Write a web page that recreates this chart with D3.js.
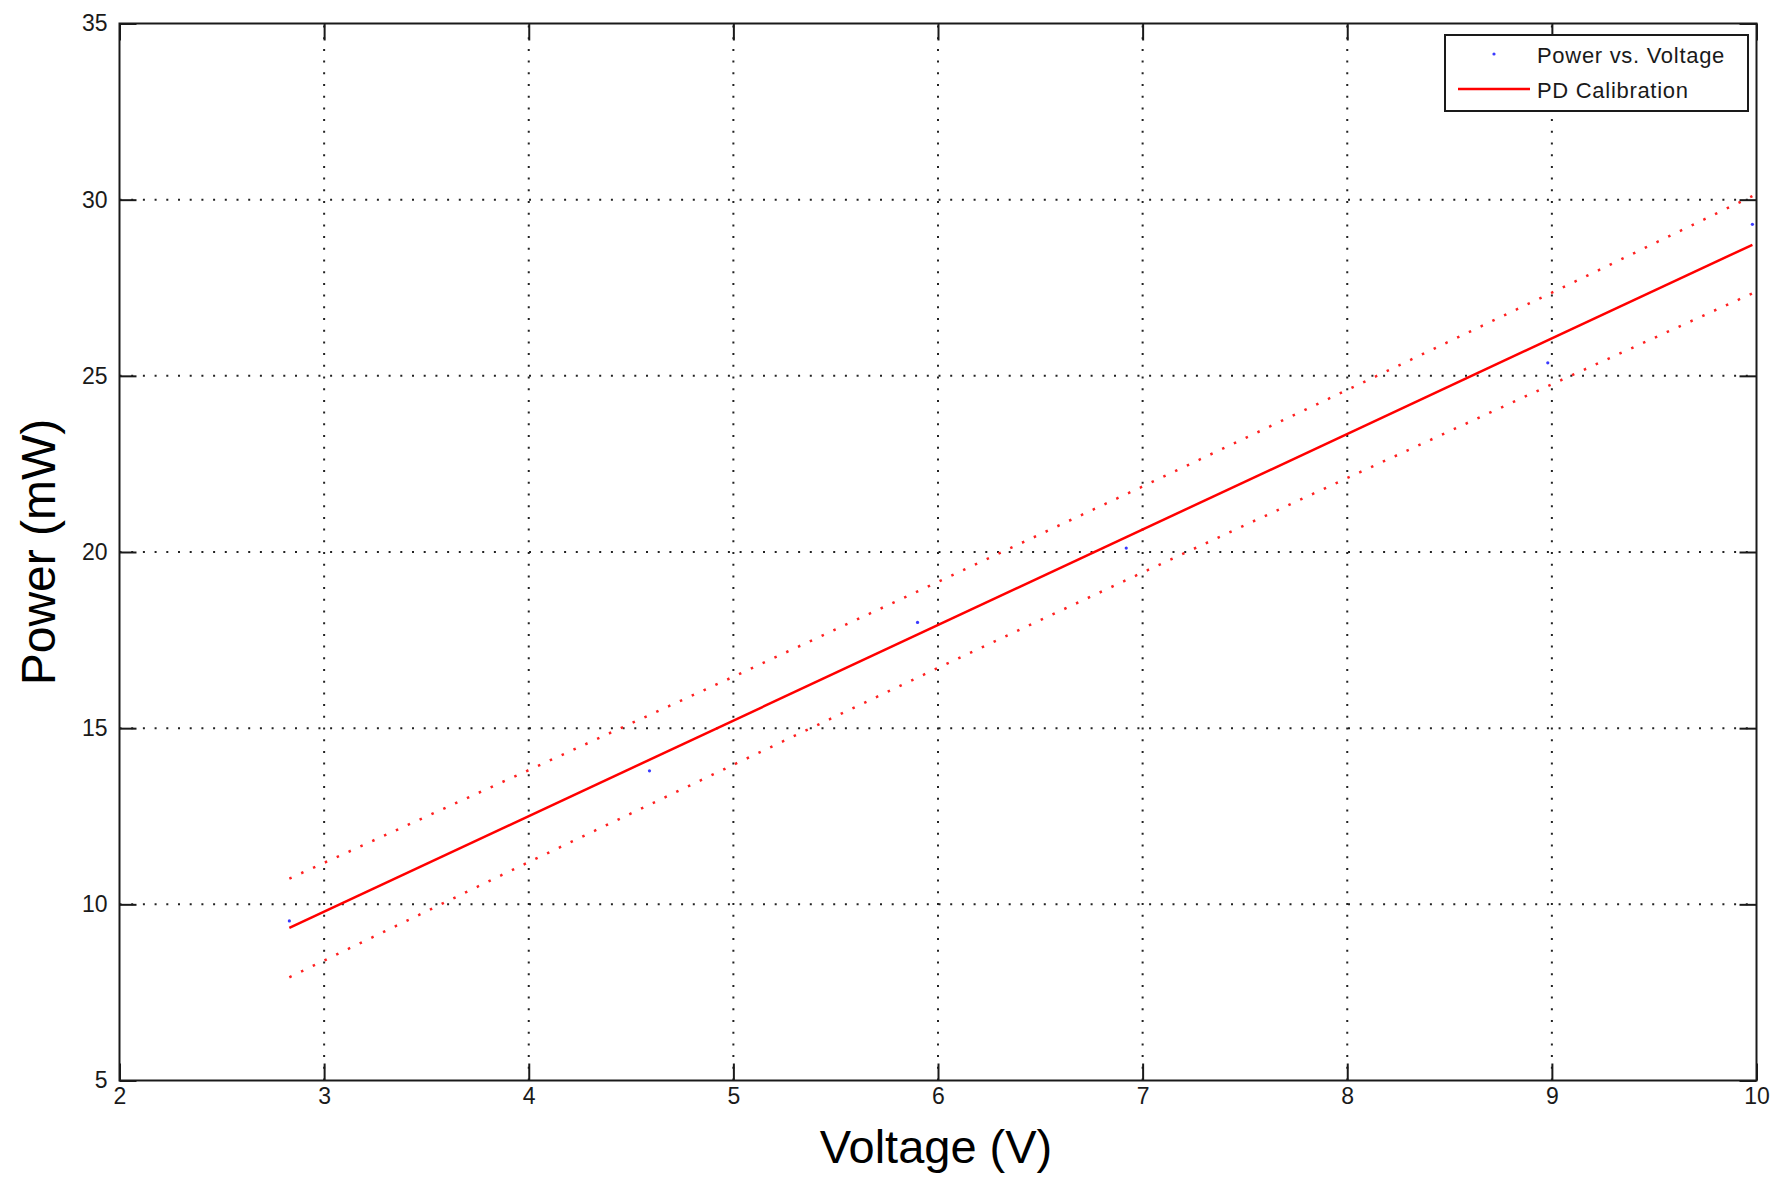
<!DOCTYPE html>
<html>
<head>
<meta charset="utf-8">
<script src="https://cdn.jsdelivr.net/npm/d3@7"></script>
<style>
  body { margin: 0; background: #fff; }
  svg { display: block; }
  .tick text { font-family: "Liberation Sans Narrow", "Arial Narrow", "Liberation Sans", sans-serif; font-size: 23px; fill: #1a1a1a; }
  .domain { display: none; }
</style>
</head>
<body>
<script>
// measured points
var voltage = [2.83, 4.59, 5.90, 6.92, 8.98, 9.98];
var power = [9.53, 13.79, 18.00, 20.11, 25.37, 29.30];

// calibration fit, read at its two ends
var fitVoltage = [2.83, 9.98];
var fitPower = [9.33, 28.72];

// dotted prediction bounds
var boundVoltage = [2.83, 4, 5, 6, 7, 8, 9, 9.98];
var upperPower = [10.73, 13.81, 16.46, 19.15, 21.86, 24.60, 27.36, 30.10];
var lowerPower = [7.93, 11.20, 13.96, 16.71, 19.42, 22.10, 24.76, 27.34];

var xTicks = [2, 3, 4, 5, 6, 7, 8, 9, 10];
var yTicks = [5, 10, 15, 20, 25, 30, 35];

var width = 1787, height = 1178;
var plotL = 119.5, plotR = 1756.5, plotT = 23.5, plotB = 1080.5;
var ink = "#1a1a1a";

var svg = d3.select("body").append("svg")
    .attr("width", width)
    .attr("height", height);

svg.append("rect").attr("width", width).attr("height", height).attr("fill", "#fff");

var x = d3.scaleLinear().domain([2, 10]).range([plotL, plotR]);
var y = d3.scaleLinear().domain([5, 35]).range([plotB, plotT]);

// grid
var grid = svg.append("g")
    .attr("stroke", "#222")
    .attr("stroke-width", 2)
    .attr("stroke-dasharray", "2,9.7");

grid.selectAll(".gx")
    .data(xTicks.slice(1, -1))
    .enter().append("line")
    .attr("x1", function(d) { return x(d); })
    .attr("x2", function(d) { return x(d); })
    .attr("y1", plotB)
    .attr("y2", plotT);

grid.selectAll(".gy")
    .data(yTicks.slice(1, -1))
    .enter().append("line")
    .attr("y1", function(d) { return y(d); })
    .attr("y2", function(d) { return y(d); })
    .attr("x1", plotL)
    .attr("x2", plotR);

// bounds
var line = d3.line()
    .x(function(d) { return x(d[0]); })
    .y(function(d) { return y(d[1]); });

[upperPower, lowerPower].forEach(function(vals) {
    svg.append("path")
        .datum(d3.zip(boundVoltage, vals))
        .attr("d", line)
        .attr("fill", "none")
        .attr("stroke", "#ff2020")
        .attr("stroke-width", 2.5)
        .attr("stroke-dasharray", "2.5,10.5");
});

// fit line
svg.append("path")
    .datum(d3.zip(fitVoltage, fitPower))
    .attr("d", line)
    .attr("fill", "none")
    .attr("stroke", "#ff0000")
    .attr("stroke-width", 2.5);

// data points
svg.selectAll(".pt")
    .data(d3.zip(voltage, power))
    .enter().append("circle")
    .attr("cx", function(d) { return x(d[0]); })
    .attr("cy", function(d) { return y(d[1]); })
    .attr("r", 1.6)
    .attr("fill", "#3a3aff");

// axes, ticks pointing in
function styleAxis(g) {
    g.selectAll(".tick line").attr("stroke", ink).attr("stroke-width", 2);
}

svg.append("g")
    .attr("transform", "translate(0," + plotB + ")")
    .call(d3.axisBottom(x).tickValues(xTicks).tickFormat(d3.format("d"))
        .tickSizeInner(-17).tickSizeOuter(0).tickPadding(7))
    .call(styleAxis);

svg.append("g")
    .attr("transform", "translate(" + plotL + ",0)")
    .call(d3.axisLeft(y).tickValues(yTicks).tickFormat(d3.format("d"))
        .tickSizeInner(-17).tickSizeOuter(0).tickPadding(12))
    .call(styleAxis);

svg.append("g")
    .attr("transform", "translate(0," + plotT + ")")
    .call(d3.axisTop(x).tickValues(xTicks).tickFormat("")
        .tickSizeInner(-17).tickSizeOuter(0))
    .call(styleAxis);

svg.append("g")
    .attr("transform", "translate(" + plotR + ",0)")
    .call(d3.axisRight(y).tickValues(yTicks).tickFormat("")
        .tickSizeInner(-17).tickSizeOuter(0))
    .call(styleAxis);

svg.append("rect")
    .attr("x", plotL).attr("y", plotT)
    .attr("width", plotR - plotL).attr("height", plotB - plotT)
    .attr("fill", "none")
    .attr("stroke", ink)
    .attr("stroke-width", 2);

// axis titles
svg.append("text")
    .attr("x", 936)
    .attr("y", 1163)
    .attr("text-anchor", "middle")
    .style("font-family", "Liberation Sans, Arial, sans-serif")
    .style("font-size", "47px")
    .attr("fill", "#000")
    .text("Voltage (V)");

svg.append("text")
    .attr("transform", "translate(55," + ((plotT + plotB) / 2) + ") rotate(-90)")
    .attr("text-anchor", "middle")
    .style("font-family", "Liberation Sans, Arial, sans-serif")
    .style("font-size", "48px")
    .attr("fill", "#000")
    .text("Power (mW)");

// legend
var legend = svg.append("g");
legend.append("rect")
    .attr("x", 1445).attr("y", 35)
    .attr("width", 303).attr("height", 76)
    .attr("fill", "#fff")
    .attr("stroke", ink)
    .attr("stroke-width", 2);

legend.append("circle")
    .attr("cx", 1494).attr("cy", 54).attr("r", 1.6)
    .attr("fill", "#3a3aff");

legend.append("line")
    .attr("x1", 1458).attr("x2", 1530)
    .attr("y1", 89).attr("y2", 89)
    .attr("stroke", "#ff0000")
    .attr("stroke-width", 2.5);

var legendLabels = ["Power vs. Voltage", "PD Calibration"];
legend.selectAll(".lt")
    .data(legendLabels)
    .enter().append("text")
    .attr("x", 1537)
    .attr("y", function(d, i) { return 63 + i * 35; })
    .style("font-family", "Liberation Sans Narrow, Arial Narrow, Liberation Sans, sans-serif")
    .style("font-size", "22px")
    .style("letter-spacing", "0.7px")
    .attr("fill", ink)
    .text(function(d) { return d; });
</script>
</body>
</html>
